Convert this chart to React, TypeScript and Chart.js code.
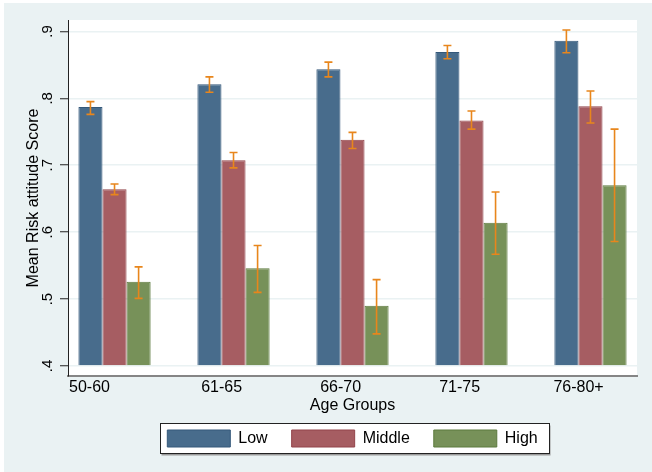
import React, { useEffect, useRef } from "react";
import { Chart, registerables } from "chart.js";

Chart.register(...registerables);

const AGE_GROUPS = ["50-60", "61-65", "66-70", "71-75", "76-80+"];
const SERIES = ["Low", "Middle", "High"];

const LOW = [0.787, 0.821, 0.8435, 0.869, 0.886];
const LOW_LO = [0.776, 0.809, 0.832, 0.859, 0.868];
const LOW_HI = [0.795, 0.832, 0.854, 0.879, 0.902];

const MIDDLE = [0.664, 0.7075, 0.738, 0.767, 0.788];
const MIDDLE_LO = [0.656, 0.696, 0.725, 0.754, 0.763];
const MIDDLE_HI = [0.672, 0.719, 0.749, 0.781, 0.811];

const HIGH = [0.526, 0.546, 0.49, 0.614, 0.67];
const HIGH_LO = [0.501, 0.51, 0.448, 0.567, 0.586];
const HIGH_HI = [0.548, 0.58, 0.529, 0.66, 0.754];

const Y_TICKS = [0.4, 0.5, 0.6, 0.7, 0.8, 0.9];

const FONT = "'Liberation Sans', Arial, Helvetica, sans-serif";
const BG = "#eaf2f3";

const LOWERS = [LOW_LO, MIDDLE_LO, HIGH_LO];
const UPPERS = [LOW_HI, MIDDLE_HI, HIGH_HI];

const framePlugin = {
  id: "frame",
  afterLayout(chart: any) {
    const lg = chart.legend;
    if (lg) {
      const ca = chart.chartArea;
      const shift = (ca.left + ca.right) / 2 - (lg.left + lg.right) / 2;
      lg.left += shift;
      lg.right += shift;
    }
  },
  beforeDraw(chart: any) {
    const { ctx, width, height, chartArea } = chart;
    ctx.save();
    ctx.fillStyle = "#ffffff";
    ctx.fillRect(0, 0, width, height);
    ctx.fillStyle = BG;
    ctx.fillRect(4, 3, width - 4, height - 3);
    ctx.fillStyle = "#ffffff";
    ctx.fillRect(chartArea.left, chartArea.top, chartArea.right - chartArea.left, chartArea.bottom - chartArea.top);
    const lg = chart.legend;
    if (lg && lg.legendHitBoxes && lg.legendHitBoxes.length) {
      const hb = lg.legendHitBoxes;
      const first = hb[0];
      const last = hb[hb.length - 1];
      const l = Math.round(first.left - 7) + 0.5;
      const r = Math.round(last.left + last.width + 11) + 0.5;
      const t = Math.round(first.top - 7) + 0.5;
      const b = Math.round(first.top + first.height + 6) + 0.5;
      ctx.fillStyle = "#9a9a9a";
      ctx.fillRect(l + 1, t + 2, r - l, b - t);
      ctx.fillStyle = "#ffffff";
      ctx.fillRect(l, t, r - l, b - t);
      ctx.strokeStyle = "#222222";
      ctx.lineWidth = 1;
      ctx.strokeRect(l, t, r - l, b - t);
    }
    ctx.restore();
  },
  afterDatasetsDraw(chart: any) {
    const { ctx } = chart;
    const yScale = chart.scales.y;
    ctx.save();
    ctx.strokeStyle = "rgb(232,134,28)";
    ctx.lineWidth = 1.6;
    chart.data.datasets.forEach((_: any, i: number) => {
      const meta = chart.getDatasetMeta(i);
      meta.data.forEach((bar: any, j: number) => {
        const x = bar.x;
        const yLo = yScale.getPixelForValue(LOWERS[i][j]);
        const yHi = yScale.getPixelForValue(UPPERS[i][j]);
        ctx.beginPath();
        ctx.moveTo(x, yLo);
        ctx.lineTo(x, yHi);
        ctx.moveTo(x - 4, yLo);
        ctx.lineTo(x + 4, yLo);
        ctx.moveTo(x - 4, yHi);
        ctx.lineTo(x + 4, yHi);
        ctx.stroke();
      });
    });
    ctx.restore();
  },
};

export default function App() {
  const ref = useRef<HTMLCanvasElement | null>(null);

  useEffect(() => {
    document.body.style.margin = "0";
    if (!ref.current) return;
    const toPoints = (arr: number[]) => arr.map((v, i) => ({ x: i, y: v }));
    const chart = new Chart(ref.current, {
      type: "bar",
      data: {
        datasets: [
          {
            label: SERIES[0],
            data: toPoints(LOW),
            backgroundColor: "rgb(72,108,140)",
            borderColor: "rgb(52,88,122)",
            borderWidth: 1,
            base: 0.4,
          },
          {
            label: SERIES[1],
            data: toPoints(MIDDLE),
            backgroundColor: "rgb(166,93,98)",
            borderColor: "rgb(146,68,74)",
            borderWidth: 1,
            base: 0.4,
          },
          {
            label: SERIES[2],
            data: toPoints(HIGH),
            backgroundColor: "rgb(119,145,89)",
            borderColor: "rgb(92,122,62)",
            borderWidth: 1,
            base: 0.4,
          },
        ] as any,
      },
      options: {
        animation: false,
        responsive: false,
        events: [],
        layout: { padding: { top: 20, right: 15, bottom: 15, left: 0 } },
        datasets: {
          bar: { categoryPercentage: 0.607, barPercentage: 1 },
        } as any,
        scales: {
          x: {
            type: "linear",
            min: -0.391,
            max: 4.391,
            offset: false,
            grid: { display: false, drawTicks: false },
            border: { display: true, color: "#858585", width: 2 },
            afterBuildTicks: (scale: any) => {
              scale.ticks = AGE_GROUPS.map((_, i) => ({ value: i === 0 ? -0.21 : i - 0.1 }));
            },
            afterFit: (scale: any) => {
              scale.height = 30;
            },
            ticks: {
              autoSkip: false,
              maxRotation: 0,
              minRotation: 0,
              padding: 2,
              color: "#000",
              font: { family: FONT, size: 16 },
              callback: (_v: any, i: number) => AGE_GROUPS[i],
            },
            title: {
              display: true,
              text: "Age Groups",
              color: "#000",
              font: { family: FONT, size: 16 },
              padding: { top: 0, bottom: -9 },
            },
          },
          y: {
            type: "linear",
            min: 0.385,
            max: 0.917,
            grid: {
              color: BG,
              lineWidth: 1.5,
              tickColor: "#222",
              tickLength: 8,
              tickWidth: 1,
            },
            border: { display: true, color: "#222", width: 1 },
            afterBuildTicks: (scale: any) => {
              scale.ticks = Y_TICKS.map((v) => ({ value: v }));
            },
            afterFit: (scale: any) => {
              scale.width = 68;
            },
            ticks: {
              minRotation: 90,
              maxRotation: 90,
              crossAlign: "center",
              padding: 6,
              color: "#000",
              font: { family: FONT, size: 15 },
              callback: (v: any) => Number(v).toFixed(1).replace(/^0/, ""),
            },
            title: {
              display: true,
              text: "Mean Risk attitude Score",
              color: "#000",
              font: { family: FONT, size: 16 },
              padding: { top: 24, bottom: 0 },
            },
          },
        },
        plugins: {
          legend: {
            display: true,
            position: "bottom",
            labels: {
              boxWidth: 63,
              boxHeight: 17,
              padding: 24,
              color: "#000",
              font: { family: FONT, size: 16 },
            },
          },
          tooltip: { enabled: false },
        },
      } as any,
      plugins: [framePlugin],
    });
    return () => chart.destroy();
  }, []);

  return (
    <div style={{ width: 652, height: 472 }}>
      <canvas ref={ref} width={652} height={472} style={{ display: "block", width: 652, height: 472 }} />
    </div>
  );
}
